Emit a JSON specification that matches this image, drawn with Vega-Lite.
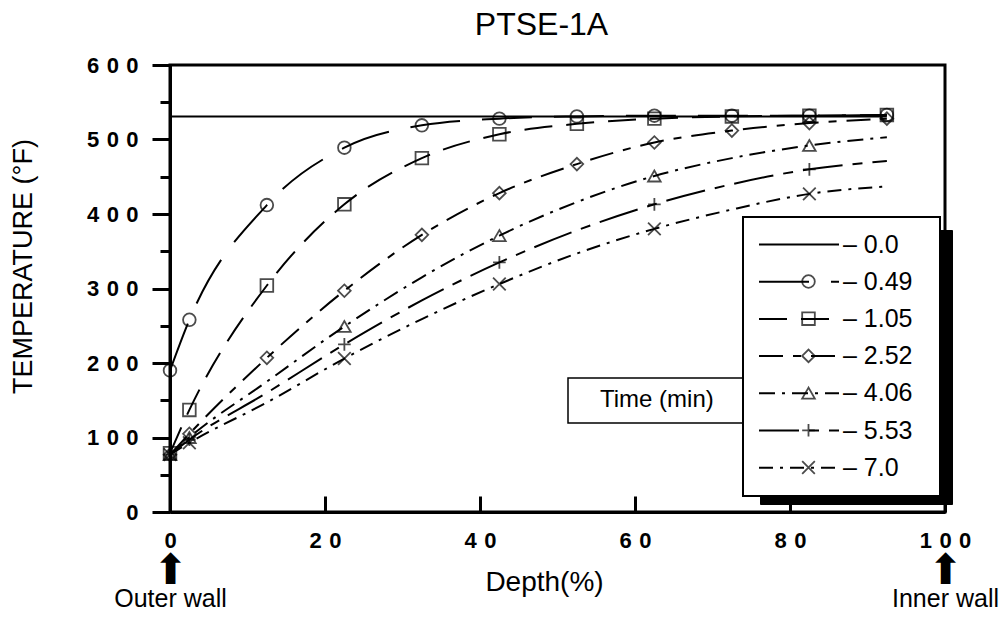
{
  "$schema": "https://vega.github.io/schema/vega-lite/v6.json",
  "width": 775,
  "height": 447,
  "autosize": "none",
  "padding": {"left": 170, "top": 65, "right": 55, "bottom": 108},
  "background": "white",
  "title": {"text": "PTSE-1A", "fontSize": 32, "fontWeight": "normal", "font": "Liberation Sans", "color": "black", "anchor": "middle", "offset": 12, "dx": -16},
  "config": {
    "font": "Liberation Sans",
    "mark": {"color": "black"},
    "view": {"stroke": "black", "strokeWidth": 3},
    "axis": {"labelFont": "Liberation Sans", "titleFont": "Liberation Sans", "labelColor": "black", "titleColor": "black", "tickColor": "black", "domainColor": "black", "grid": false},
    "legend": {"labelFont": "Liberation Sans", "labelColor": "black", "titleFont": "Liberation Sans", "titleColor": "black"}
  },
  "datasets": {
    "curves": [
      {"time": "0.0", "depth": 0, "temp": 531}, {"time": "0.0", "depth": 92.5, "temp": 531},
      {"time": "0.49", "depth": 0, "temp": 190}, {"time": "0.49", "depth": 2.5, "temp": 258}, {"time": "0.49", "depth": 12.5, "temp": 412}, {"time": "0.49", "depth": 22.5, "temp": 489}, {"time": "0.49", "depth": 32.5, "temp": 519}, {"time": "0.49", "depth": 42.5, "temp": 528}, {"time": "0.49", "depth": 52.5, "temp": 531}, {"time": "0.49", "depth": 62.5, "temp": 532}, {"time": "0.49", "depth": 72.5, "temp": 532}, {"time": "0.49", "depth": 82.5, "temp": 532}, {"time": "0.49", "depth": 92.5, "temp": 533},
      {"time": "1.05", "depth": 0, "temp": 79}, {"time": "1.05", "depth": 2.5, "temp": 137}, {"time": "1.05", "depth": 12.5, "temp": 304}, {"time": "1.05", "depth": 22.5, "temp": 413}, {"time": "1.05", "depth": 32.5, "temp": 475}, {"time": "1.05", "depth": 42.5, "temp": 507}, {"time": "1.05", "depth": 52.5, "temp": 521}, {"time": "1.05", "depth": 62.5, "temp": 528}, {"time": "1.05", "depth": 72.5, "temp": 531}, {"time": "1.05", "depth": 82.5, "temp": 532}, {"time": "1.05", "depth": 92.5, "temp": 533},
      {"time": "2.52", "depth": 0, "temp": 77}, {"time": "2.52", "depth": 2.5, "temp": 105}, {"time": "2.52", "depth": 12.5, "temp": 207}, {"time": "2.52", "depth": 22.5, "temp": 297}, {"time": "2.52", "depth": 32.5, "temp": 372}, {"time": "2.52", "depth": 42.5, "temp": 428}, {"time": "2.52", "depth": 52.5, "temp": 467}, {"time": "2.52", "depth": 62.5, "temp": 496}, {"time": "2.52", "depth": 72.5, "temp": 512}, {"time": "2.52", "depth": 82.5, "temp": 522}, {"time": "2.52", "depth": 92.5, "temp": 528},
      {"time": "4.06", "depth": 0, "temp": 77}, {"time": "4.06", "depth": 2.5, "temp": 100}, {"time": "4.06", "depth": 12.5, "temp": 175}, {"time": "4.06", "depth": 22.5, "temp": 249}, {"time": "4.06", "depth": 32.5, "temp": 315}, {"time": "4.06", "depth": 42.5, "temp": 371}, {"time": "4.06", "depth": 52.5, "temp": 416}, {"time": "4.06", "depth": 62.5, "temp": 451}, {"time": "4.06", "depth": 72.5, "temp": 475}, {"time": "4.06", "depth": 82.5, "temp": 492}, {"time": "4.06", "depth": 92.5, "temp": 503},
      {"time": "5.53", "depth": 0, "temp": 77}, {"time": "5.53", "depth": 2.5, "temp": 97}, {"time": "5.53", "depth": 12.5, "temp": 160}, {"time": "5.53", "depth": 22.5, "temp": 225}, {"time": "5.53", "depth": 32.5, "temp": 284}, {"time": "5.53", "depth": 42.5, "temp": 335}, {"time": "5.53", "depth": 52.5, "temp": 378}, {"time": "5.53", "depth": 62.5, "temp": 413}, {"time": "5.53", "depth": 72.5, "temp": 440}, {"time": "5.53", "depth": 82.5, "temp": 460}, {"time": "5.53", "depth": 92.5, "temp": 471},
      {"time": "7.0", "depth": 0, "temp": 77}, {"time": "7.0", "depth": 2.5, "temp": 93}, {"time": "7.0", "depth": 12.5, "temp": 147}, {"time": "7.0", "depth": 22.5, "temp": 206}, {"time": "7.0", "depth": 32.5, "temp": 259}, {"time": "7.0", "depth": 42.5, "temp": 306}, {"time": "7.0", "depth": 52.5, "temp": 347}, {"time": "7.0", "depth": 62.5, "temp": 380}, {"time": "7.0", "depth": 72.5, "temp": 406}, {"time": "7.0", "depth": 82.5, "temp": 427}, {"time": "7.0", "depth": 92.5, "temp": 437}
    ],
    "markers": [
      {"time": "0.49", "depth": 0, "temp": 190}, {"time": "0.49", "depth": 2.5, "temp": 258}, {"time": "0.49", "depth": 12.5, "temp": 412}, {"time": "0.49", "depth": 22.5, "temp": 489}, {"time": "0.49", "depth": 32.5, "temp": 519}, {"time": "0.49", "depth": 42.5, "temp": 528}, {"time": "0.49", "depth": 52.5, "temp": 531}, {"time": "0.49", "depth": 62.5, "temp": 532}, {"time": "0.49", "depth": 72.5, "temp": 532}, {"time": "0.49", "depth": 82.5, "temp": 532}, {"time": "0.49", "depth": 92.5, "temp": 533},
      {"time": "1.05", "depth": 0, "temp": 79}, {"time": "1.05", "depth": 2.5, "temp": 137}, {"time": "1.05", "depth": 12.5, "temp": 304}, {"time": "1.05", "depth": 22.5, "temp": 413}, {"time": "1.05", "depth": 32.5, "temp": 475}, {"time": "1.05", "depth": 42.5, "temp": 507}, {"time": "1.05", "depth": 52.5, "temp": 521}, {"time": "1.05", "depth": 62.5, "temp": 528}, {"time": "1.05", "depth": 72.5, "temp": 531}, {"time": "1.05", "depth": 82.5, "temp": 532}, {"time": "1.05", "depth": 92.5, "temp": 533},
      {"time": "2.52", "depth": 0, "temp": 77}, {"time": "2.52", "depth": 2.5, "temp": 105}, {"time": "2.52", "depth": 12.5, "temp": 207}, {"time": "2.52", "depth": 22.5, "temp": 297}, {"time": "2.52", "depth": 32.5, "temp": 372}, {"time": "2.52", "depth": 42.5, "temp": 428}, {"time": "2.52", "depth": 52.5, "temp": 467}, {"time": "2.52", "depth": 62.5, "temp": 496}, {"time": "2.52", "depth": 72.5, "temp": 512}, {"time": "2.52", "depth": 82.5, "temp": 522}, {"time": "2.52", "depth": 92.5, "temp": 528},
      {"time": "4.06", "depth": 0, "temp": 77}, {"time": "4.06", "depth": 2.5, "temp": 100}, {"time": "4.06", "depth": 22.5, "temp": 249}, {"time": "4.06", "depth": 42.5, "temp": 371}, {"time": "4.06", "depth": 62.5, "temp": 451}, {"time": "4.06", "depth": 82.5, "temp": 492},
      {"time": "5.53", "depth": 0, "temp": 77}, {"time": "5.53", "depth": 2.5, "temp": 97}, {"time": "5.53", "depth": 22.5, "temp": 225}, {"time": "5.53", "depth": 42.5, "temp": 335}, {"time": "5.53", "depth": 62.5, "temp": 413}, {"time": "5.53", "depth": 82.5, "temp": 460},
      {"time": "7.0", "depth": 0, "temp": 77}, {"time": "7.0", "depth": 2.5, "temp": 93}, {"time": "7.0", "depth": 22.5, "temp": 206}, {"time": "7.0", "depth": 42.5, "temp": 306}, {"time": "7.0", "depth": 62.5, "temp": 380}, {"time": "7.0", "depth": 82.5, "temp": 427}
    ]
  },
  "layer": [
    {
      "data": {"name": "curves"},
      "transform": [{"filter": "datum.time != '0.0'"}],
      "mark": {"type": "line", "interpolate": "monotone", "strokeWidth": 2, "clip": true},
      "encoding": {
        "x": {"field": "depth", "type": "quantitative", "scale": {"domain": [0, 100]},
          "axis": {"orient": "bottom", "values": [0, 20, 40, 60, 80, 100], "title": "Depth(%)", "titleFontSize": 28, "titleFontWeight": "normal", "titleX": 374, "titleY": 78, "titleBaseline": "alphabetic",
            "labelFontSize": 22, "labelFontWeight": "bold", "labelExpr": "join(split(datum.label, ''), '\u2004')", "labelFlush": false, "labelOverlap": false,
            "tickSize": -16, "tickWidth": 3, "domainWidth": 3, "labelPadding": 34}},
        "y": {"field": "temp", "type": "quantitative", "scale": {"domain": [0, 600]},
          "axis": {"orient": "left", "values": [0, 100, 200, 300, 400, 500, 600], "title": "TEMPERATURE (°F)", "titleFontSize": 27, "titleFontWeight": "normal", "titlePadding": 49, "titleY": 201,
            "labelFontSize": 22, "labelFontWeight": "bold", "labelExpr": "join(split(datum.label, ''), '\u2004')", "labelFlush": false, "labelOverlap": false,
            "tickSize": 18, "tickWidth": 3, "domainWidth": 3, "labelPadding": 14}},
        "strokeDash": {"field": "time", "type": "nominal",
          "scale": {"domain": ["0.0", "0.49", "1.05", "2.52", "4.06", "5.53", "7.0"],
            "range": [[1, 0], [50, 22], [28, 14], [24, 10, 8, 10], [16, 7, 3, 7], [40, 10, 10, 10], [14, 7, 3, 7]]},
          "legend": {"orient": "none", "legendX": 573, "legendY": 152, "title": "\u00a0", "titleOrient": "right", "titlePadding": 12, "titleFontSize": 10, "padding": 15, "fillColor": "white", "strokeColor": "black",
            "symbolType": "stroke", "symbolSize": 6400, "symbolStrokeWidth": 2, "symbolStrokeColor": "black", "clipHeight": 25, "rowPadding": 11.2,
            "labelFontSize": 25, "labelOffset": 3, "labelLimit": 300, "labelExpr": "'– ' + datum.label", "zindex": 2,
            "encode": {"legend": {"update": {"strokeWidth": {"value": 2}}}}}},
        "stroke": {"datum": "Time (min)", "type": "nominal", "scale": {"range": ["black"]},
          "legend": {"orient": "none", "legendX": 398, "legendY": 313, "title": "\u00a0", "titleOrient": "right", "titlePadding": 22, "titleFontSize": 10, "padding": 11, "fillColor": "white", "strokeColor": "black",
            "symbolType": "circle", "symbolSize": 1, "symbolOpacity": 0, "clipHeight": 22, "labelFontSize": 24, "labelOffset": -3, "labelLimit": 400,
            "zindex": 1,
            "encode": {"legend": {"update": {"strokeWidth": {"value": 1.5}}}}}}
      }
    },
    {
      "data": {"name": "markers"},
      "mark": {"type": "point", "filled": false, "strokeWidth": 1.8, "size": 160, "clip": false},
      "encoding": {
        "x": {"field": "depth", "type": "quantitative",
          "axis": {"orient": "bottom", "values": [0, 100], "title": null, "domain": false, "ticks": false, "labelFontSize": 42, "labelPadding": 38,
            "labelExpr": "'⬆'", "labelFlush": false, "labelOverlap": false}},
        "y": {"field": "temp", "type": "quantitative",
          "axis": {"orient": "left", "values": [50, 150, 250, 350, 450, 550], "title": null, "labels": false, "domain": false, "tickSize": 10, "tickWidth": 3}},
        "shape": {"field": "time", "type": "nominal",
          "scale": {"domain": ["0.49", "1.05", "2.52", "4.06", "5.53", "7.0"],
            "range": ["circle", "square", "diamond", "triangle-up", "M-1,0H1M0,-1V1", "M-1,-1L1,1M-1,1L1,-1"]},
          "legend": {"orient": "none", "legendX": 611, "legendY": 189, "title": null, "padding": 15, "symbolStrokeColor": "black", "symbolStrokeWidth": 1.8, "symbolSize": 160,
            "clipHeight": 25, "rowPadding": 11.2, "labelFontSize": 25, "labelExpr": "''", "zindex": 3}},
        "color": {"datum": "shadow", "type": "nominal", "scale": {"range": ["black"]},
          "legend": {"orient": "none", "legendX": 590, "legendY": 165, "title": null, "padding": 0, "fillColor": "black", "strokeColor": "black",
            "symbolType": "square", "symbolSize": 34596, "symbolOpacity": 0, "clipHeight": 274, "labelExpr": "''", "labelOffset": 4, "zindex": 1}}
      }
    },
    {
      "data": {"name": "curves"},
      "transform": [{"filter": "datum.time == '0.0'"}],
      "mark": {"type": "line", "strokeWidth": 2, "color": "black", "clip": true},
      "encoding": {
        "x": {"field": "depth", "type": "quantitative",
          "axis": {"orient": "bottom", "values": [0, 100], "title": null, "domain": false, "ticks": false, "labelFontSize": 25, "labelPadding": 74,
            "labelExpr": "datum.value == 0 ? 'Outer wall' : 'Inner wall'", "labelFlush": false, "labelOverlap": false}},
        "y": {"field": "temp", "type": "quantitative", "axis": null},
        "strokeDash": {"field": "time", "type": "nominal"}
      }
    }
  ],
  "resolve": {"axis": {"x": "independent", "y": "independent"}}
}
